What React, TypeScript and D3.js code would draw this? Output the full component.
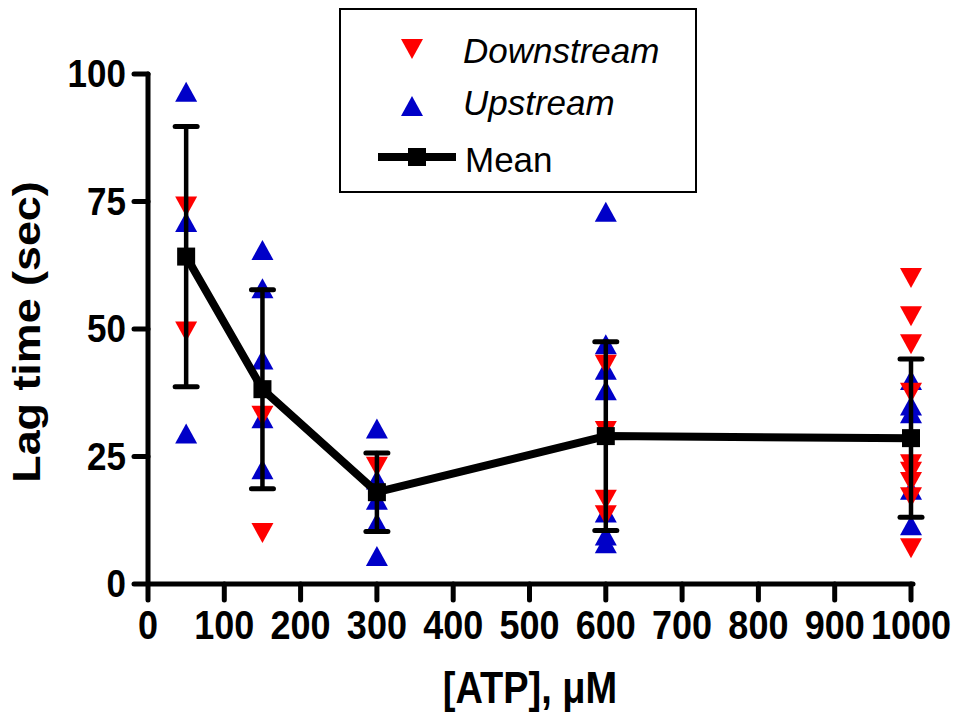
import React from "react";
import * as d3 from "d3";

const concentrations = [50, 150, 300, 600, 1000];
const downstream: number[][] = [
  [74, 49.5],
  [33, 10],
  [23],
  [43, 30, 16.5, 13.5],
  [60, 52.5, 47, 37.5, 23.5, 22, 20, 17, 7],
];
const upstream: number[][] = [
  [96.5, 71, 29.5],
  [65.5, 58, 44, 32.5, 22.5],
  [30.5, 20.5, 16.5, 12, 5.5],
  [73, 47, 42, 38, 14, 9.5, 8],
  [40, 35, 33.5, 18.5, 11.5],
];
const meanValues = [64.2, 38.2, 18, 29, 28.6];
const sdValues = [25.5, 19.5, 7.7, 18.5, 15.5];
const xTicks = [0, 100, 200, 300, 400, 500, 600, 700, 800, 900, 1000];
const yTicks = [0, 25, 50, 75, 100];

const RED = "#FF0000";
const BLUE = "#0000C8";
const FONT = "Liberation Sans, Arial, sans-serif";

const triUp = (x: number, y: number) =>
  `M${x - 11},${y + 10}L${x + 11},${y + 10}L${x},${y - 10}Z`;
const triDown = (x: number, y: number) =>
  `M${x - 11},${y - 10}L${x + 11},${y - 10}L${x},${y + 10}Z`;

export default function App() {
  const x = d3.scaleLinear().domain([0, 1000]).range([148, 911]);
  const y = d3.scaleLinear().domain([0, 100]).range([584, 74]);
  const line = d3
    .line<number>()
    .x((_, i) => x(concentrations[i]))
    .y((d) => y(d));

  return (
    <svg
      width={958}
      height={715}
      style={{ position: "absolute", left: 0, top: 0, background: "#fff" }}
      fontFamily={FONT}
    >
      <rect x={0} y={0} width={958} height={715} fill="#fff" />
      {/* axes */}
      <g stroke="#000" strokeWidth={5} strokeLinecap="round">
        <line x1={x(0)} x2={x(0)} y1={y(100)} y2={y(0)} />
        <line x1={x(0)} x2={913} y1={y(0)} y2={y(0)} />
        {yTicks.map((t) => (
          <line key={"yt" + t} x1={x(0) - 14} x2={x(0)} y1={y(t)} y2={y(t)} />
        ))}
        {xTicks.map((t) => (
          <line key={"xt" + t} x1={x(t)} x2={x(t)} y1={y(0)} y2={y(0) + 16} />
        ))}
      </g>
      {yTicks.map((t) => (
        <text
          key={"yl" + t}
          transform={`translate(126,${y(t) + 13}) scale(1,1.1)`}
          textAnchor="end"
          fontSize={35}
          fontWeight="bold"
        >
          {t}
        </text>
      ))}
      {xTicks.map((t) => (
        <text
          key={"xl" + t}
          transform={`translate(${x(t)},639) scale(1,1.15)`}
          textAnchor="middle"
          fontSize={36}
          fontWeight="bold"
        >
          {t}
        </text>
      ))}
      <text
        transform="translate(40,332) rotate(-90) scale(1.18,1)"
        textAnchor="middle"
        fontSize={38}
        fontWeight="bold"
      >
        Lag time (sec)
      </text>
      <text
        transform="translate(530,703) scale(1,1.15)"
        textAnchor="middle"
        fontSize={38}
        fontWeight="bold"
      >
        [ATP], μM
      </text>

      {/* points */}
      {upstream.map((vals, i) =>
        vals.map((v, j) => (
          <path key={`u${i}-${j}`} d={triUp(x(concentrations[i]), y(v))} fill={BLUE} />
        ))
      )}
      {downstream.map((vals, i) =>
        vals.map((v, j) => (
          <path key={`d${i}-${j}`} d={triDown(x(concentrations[i]), y(v))} fill={RED} />
        ))
      )}

      {/* error bars */}
      <g stroke="#000" strokeLinecap="round">
        {meanValues.map((m, i) => {
          const cx = x(concentrations[i]);
          const hi = y(m + sdValues[i]);
          const lo = y(m - sdValues[i]);
          return (
            <g key={"eb" + i}>
              <line x1={cx} x2={cx} y1={hi} y2={lo} strokeWidth={4.5} />
              <line x1={cx - 11} x2={cx + 11} y1={hi} y2={hi} strokeWidth={5} />
              <line x1={cx - 11} x2={cx + 11} y1={lo} y2={lo} strokeWidth={5} />
            </g>
          );
        })}
      </g>
      <path d={line(meanValues) || ""} fill="none" stroke="#000" strokeWidth={8} strokeLinejoin="round" />
      {meanValues.map((m, i) => (
        <rect
          key={"m" + i}
          x={x(concentrations[i]) - 9}
          y={y(m) - 9}
          width={18}
          height={18}
          fill="#000"
        />
      ))}

      {/* legend */}
      <rect x={340} y={9} width={356} height={183} fill="#fff" stroke="#000" strokeWidth={2} />
      <path d={triDown(412, 49)} fill={RED} />
      <text x={463} y={63} fontSize={35} fontStyle="italic">
        Downstream
      </text>
      <path d={triUp(412, 106)} fill={BLUE} />
      <text x={463} y={115} fontSize={35} fontStyle="italic">
        Upstream
      </text>
      <line x1={378} x2={456} y1={157} y2={157} stroke="#000" strokeWidth={8} />
      <rect x={408} y={148} width={18} height={18} fill="#000" />
      <text x={465} y={172} fontSize={35}>
        Mean
      </text>
    </svg>
  );
}
